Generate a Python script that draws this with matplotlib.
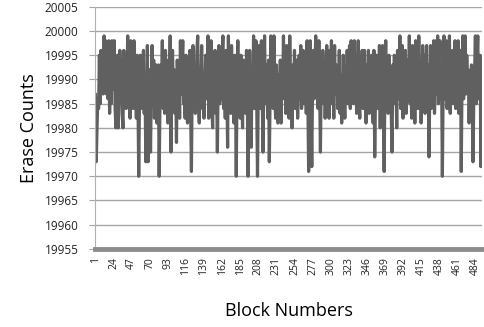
import matplotlib.pyplot as plt

# erase count per block (blocks 1..492)
erase_counts = [
    19987, 19973, 19980, 19986, 19984, 19995, 19985, 19996, 19988, 19992, 19987, 19999, 19990, 19998, 19987, 19995, 19986, 19998, 19983, 19993,
    19985, 19998, 19988, 19991, 19998, 19984, 19980, 19992, 19995, 19980, 19987, 19996, 19989, 19994, 19983, 19980, 19996, 19986, 19993, 19984,
    19990, 19999, 19985, 19992, 19982, 19998, 19988, 19993, 19984, 19998, 19986, 19990, 19982, 19995, 19987, 19970, 19986, 19995, 19984, 19991,
    19988, 19996, 19983, 19990, 19973, 19985, 19997, 19973, 19984, 19992, 19975, 19988, 19997, 19986, 19994, 19982, 19990, 19993, 19981, 19987,
    19993, 19970, 19985, 19993, 19988, 19998, 19984, 19991, 19983, 19996, 19986, 19992, 19981, 19994, 19988, 19999, 19975, 19990, 19996, 19985,
    19992, 19983, 19989, 19977, 19994, 19986, 19991, 19982, 19998, 19987, 19993, 19998, 19985, 19990, 19982, 19995, 19988, 19981, 19993, 19986,
    19996, 19984, 19971, 19990, 19997, 19986, 19993, 19983, 19989, 19996, 19999, 19985, 19981, 19992, 19987, 19997, 19984, 19991, 19982, 19988,
    19995, 19986, 19990, 19999, 19982, 19993, 19987, 19998, 19984, 19980, 19992, 19986, 19996, 19983, 19989, 19975, 19990, 19997, 19985, 19992,
    19986, 19994, 19999, 19984, 19990, 19982, 19996, 19988, 19976, 19999, 19985, 19991, 19983, 19997, 19987, 19992, 19981, 19995, 19988, 19970,
    19990, 19998, 19984, 19993, 19982, 19995, 19988, 19980, 19994, 19986, 19991, 19983, 19996, 19987, 19970, 19985, 19996, 19989, 19976, 19992,
    19986, 19999, 19984, 19990, 19998, 19985, 19970, 19988, 19997, 19984, 19993, 19998, 19986, 19975, 19991, 19999, 19985, 19993, 19988, 19982,
    19994, 19973, 19986, 19999, 19988, 19992, 19984, 19999, 19987, 19982, 19993, 19986, 19981, 19991, 19985, 19994, 19981, 19990, 19986, 19999,
    19987, 19995, 19983, 19997, 19986, 19991, 19982, 19999, 19988, 19985, 19980, 19993, 19986, 19996, 19984, 19990, 19994, 19982, 19988, 19995,
    19986, 19997, 19984, 19991, 19996, 19985, 19989, 19993, 19983, 19998, 19986, 19971, 19990, 19998, 19985, 19972, 19989, 19996, 19986, 19992,
    19999, 19987, 19993, 19984, 19998, 19988, 19975, 19991, 19985, 19996, 19987, 19993, 19982, 19990, 19997, 19986, 19992, 19982, 19996, 19988,
    19998, 19985, 19991, 19982, 19997, 19987, 19993, 19990, 19984, 19988, 19996, 19983, 19991, 19981, 19986, 19995, 19988, 19982, 19992, 19987,
    19996, 19985, 19990, 19997, 19984, 19998, 19988, 19992, 19985, 19998, 19987, 19993, 19983, 19990, 19998, 19986, 19982, 19994, 19988, 19996,
    19984, 19991, 19996, 19985, 19981, 19993, 19987, 19996, 19983, 19990, 19986, 19995, 19988, 19981, 19996, 19974, 19987, 19995, 19984, 19991,
    19987, 19997, 19980, 19993, 19986, 19997, 19985, 19971, 19990, 19998, 19986, 19992, 19983, 19995, 19988, 19992, 19984, 19975, 19993, 19987,
    19995, 19985, 19990, 19980, 19996, 19986, 19992, 19999, 19984, 19990, 19997, 19982, 19991, 19987, 19996, 19983, 19989, 19994, 19986, 19999,
    19985, 19990, 19982, 19997, 19988, 19994, 19981, 19998, 19986, 19992, 19984, 19999, 19988, 19993, 19981, 19989, 19997, 19986, 19995, 19983,
    19990, 19997, 19985, 19993, 19974, 19988, 19997, 19984, 19992, 19986, 19998, 19983, 19990, 19998, 19987, 19999, 19985, 19992, 19998, 19986,
    19991, 19970, 19988, 19999, 19986, 19993, 19998, 19984, 19990, 19986, 19999, 19983, 19994, 19988, 19996, 19985, 19992, 19998, 19984, 19990,
    19987, 19998, 19983, 19991, 19996, 19971, 19990, 19999, 19986, 19993, 19999, 19987, 19995, 19990, 19992, 19981, 19989, 19986, 19993, 19984,
    19973, 19987, 19992, 19999, 19985, 19993, 19999, 19986, 19990, 19995, 19972, 19992,
]
blocks = list(range(1, len(erase_counts) + 1))
x_ticks = list(range(1, 485, 23))
y_ticks = list(range(19955, 20006, 5))

plt.rcParams['font.family'] = ['Open Sans', 'DejaVu Sans']

fig = plt.figure(figsize=(4.85, 3.27), dpi=100)
ax = fig.add_axes([0.196, 0.239, 0.798, 0.740])

ax.plot(blocks, erase_counts, color="#606060", lw=2.3,
        solid_joinstyle="round", solid_capstyle="round")

ax.set_xlim(0.5, len(blocks) + 0.5)
ax.set_ylim(19955, 20005)
ax.set_yticks(y_ticks)
ax.set_xticks(x_ticks)
ax.set_xticklabels([str(t) for t in x_ticks], rotation=90, fontsize=7.5, color="#222222")
ax.set_yticklabels([str(t) for t in y_ticks], fontsize=8.5, color="#222222")
ax.grid(True, axis="y", color="#a6a6a6", lw=1.0)
ax.set_axisbelow(True)

for side in ["top", "right"]:
    ax.spines[side].set_visible(False)
ax.spines["left"].set_color("#b0b0b0")
ax.spines["bottom"].set_color("#8c8c8c")
ax.spines["bottom"].set_linewidth(3.5)
ax.tick_params(axis="y", length=4, color="#a6a6a6", pad=8)
ax.tick_params(axis="x", length=0, pad=6)

ax.set_xlabel("Block Numbers", fontsize=13, labelpad=19)
ax.set_ylabel("Erase Counts", fontsize=13, labelpad=5)

fig.savefig("out.png", dpi=100)
